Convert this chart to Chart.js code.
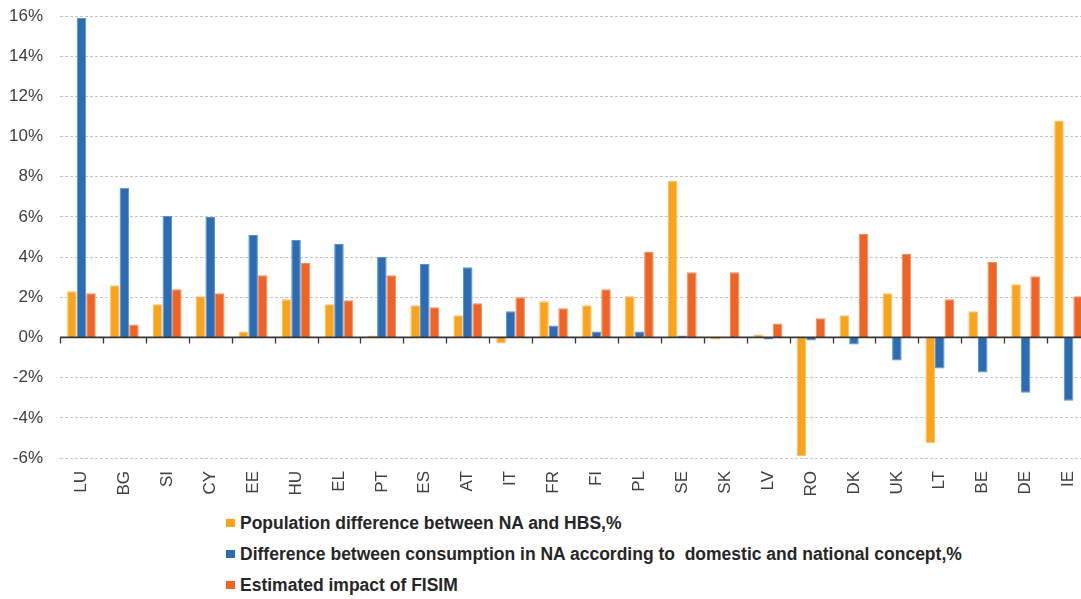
<!DOCTYPE html>
<html>
<head>
<meta charset="utf-8">
<script src="https://cdn.jsdelivr.net/npm/chart.js@4.4.1/dist/chart.umd.min.js"></script>
<style>
  html, body { margin: 0; padding: 0; background: #ffffff; overflow: hidden; }
  #stage { position: relative; width: 1081px; height: 599px; overflow: hidden; }
  #chart { position: absolute; left: 0; top: 0; }
  #legend {
    position: absolute; left: 226px; top: 508px;
    font-family: "Liberation Sans", Arial, sans-serif;
    font-weight: bold; font-size: 17.5px; color: #262626;
  }
  #legend .row { height: 31px; line-height: 31px; white-space: pre; }
  #legend .box { display: inline-block; width: 9px; height: 8px; margin-right: 5px; vertical-align: middle; position: relative; top: -1px; }
</style>
</head>
<body>
<div id="stage">
  <canvas id="chart" width="1091" height="500"></canvas>
  <div id="legend"></div>
</div>
<script>
// Countries, ordered by the consumption-concept difference
const categories = ['LU','BG','SI','CY','EE','HU','EL','PT','ES','AT','IT','FR','FI','PL','SE','SK','LV','RO','DK','UK','LT','BE','DE','IE'];

// Population difference between NA and HBS, %
const populationDiff = [2.3, 2.6, 1.65, 2.05, 0.3, 1.9, 1.65, 0.1, 1.6, 1.1, -0.3, 1.8, 1.6, 2.05, 7.8, -0.1, 0.15, -5.9, 1.1, 2.2, -5.25, 1.3, 2.65, 10.8];

// Difference between consumption in NA, domestic vs national concept, %
const conceptDiff = [15.9, 7.45, 6.05, 6.0, 5.1, 4.85, 4.65, 4.0, 3.65, 3.5, 1.3, 0.6, 0.3, 0.3, 0.1, 0.0, -0.1, -0.15, -0.35, -1.15, -1.55, -1.75, -2.75, -3.15];

// Estimated impact of FISIM, %
const fisimImpact = [2.2, 0.65, 2.4, 2.2, 3.1, 3.7, 1.85, 3.1, 1.5, 1.7, 2.0, 1.45, 2.4, 4.25, 3.25, 3.25, 0.7, 0.95, 5.15, 4.15, 1.9, 3.75, 3.05, 2.05];

const seriesLabels = [
  'Population difference between NA and HBS,%',
  'Difference between consumption in NA according to  domestic and national concept,%',
  'Estimated impact of FISIM'
];

// Value axis ticks (percent)
const yTickValues = [-6, -4, -2, 0, 2, 4, 6, 8, 10, 12, 14, 16];

const FONT = '"Liberation Sans", Arial, sans-serif';

// Solid zero line with small tick marks between the country groups
const zeroAxis = {
  id: 'zeroAxis',
  afterDatasetsDraw(chart) {
    const { ctx, scales: { x, y } } = chart;
    const y0 = y.getPixelForValue(0);
    ctx.save();
    ctx.strokeStyle = '#363636';
    ctx.lineWidth = 1.8;
    ctx.beginPath();
    ctx.moveTo(x.left, y0);
    ctx.lineTo(x.right, y0);
    ctx.stroke();
    ctx.lineWidth = 1.3;
    ctx.beginPath();
    for (let i = 0; i <= categories.length; i++) {
      const px = Math.round(x.getPixelForValue(i - 0.5)) + 0.5;
      ctx.moveTo(px, y0);
      ctx.lineTo(px, y0 + 6);
    }
    ctx.stroke();
    ctx.restore();
  }
};

const chart = new Chart(document.getElementById('chart'), {
  type: 'bar',
  data: {
    labels: categories,
    datasets: [
      { label: seriesLabels[0], data: populationDiff, backgroundColor: '#FAA41C', borderColor: '#FBC06A', borderWidth: 1 },
      { label: seriesLabels[1], data: conceptDiff,    backgroundColor: '#2A6DB4', borderColor: '#5C90CB', borderWidth: 1 },
      { label: seriesLabels[2], data: fisimImpact,    backgroundColor: '#EF6425', borderColor: '#F48E60', borderWidth: 1 }
    ]
  },
  options: {
    responsive: false,
    maintainAspectRatio: false,
    animation: false,
    layout: { padding: { top: 16, right: 1, left: 0, bottom: 0 } },
    datasets: { bar: { categoryPercentage: 0.667, barPercentage: 1.0 } },
    plugins: {
      legend: { display: false },
      tooltip: { enabled: false }
    },
    scales: {
      x: {
        grid: { display: false, drawTicks: false },
        border: { display: false },
        ticks: {
          autoSkip: false, minRotation: 90, maxRotation: 90,
          padding: 13, color: '#404040',
          font: { family: FONT, size: 17 }
        },
        afterFit(scale) {
          scale.height = 42;
          scale.paddingLeft = 0;
          scale.paddingRight = 0;
        }
      },
      y: {
        min: -6, max: 16,
        afterBuildTicks(scale) { scale.ticks = yTickValues.map(v => ({ value: v })); },
        grid: { color: '#c4c4c4', lineWidth: 1, drawTicks: false },
        border: { display: false, dash: [3, 2] },
        ticks: {
          padding: 17, color: '#404040',
          font: { family: FONT, size: 17 },
          callback: v => v + '%'
        },
        afterFit(scale) {
          scale.width = 60;
          scale.paddingTop = 0;
          scale.paddingBottom = 0;
        }
      }
    }
  },
  plugins: [zeroAxis]
});

// Legend: one series per line
const legendEl = document.getElementById('legend');
chart.data.datasets.forEach(ds => {
  const row = document.createElement('div');
  row.className = 'row';
  const box = document.createElement('span');
  box.className = 'box';
  box.style.background = ds.backgroundColor;
  row.appendChild(box);
  row.appendChild(document.createTextNode(ds.label));
  legendEl.appendChild(row);
});
</script>
</body>
</html>
